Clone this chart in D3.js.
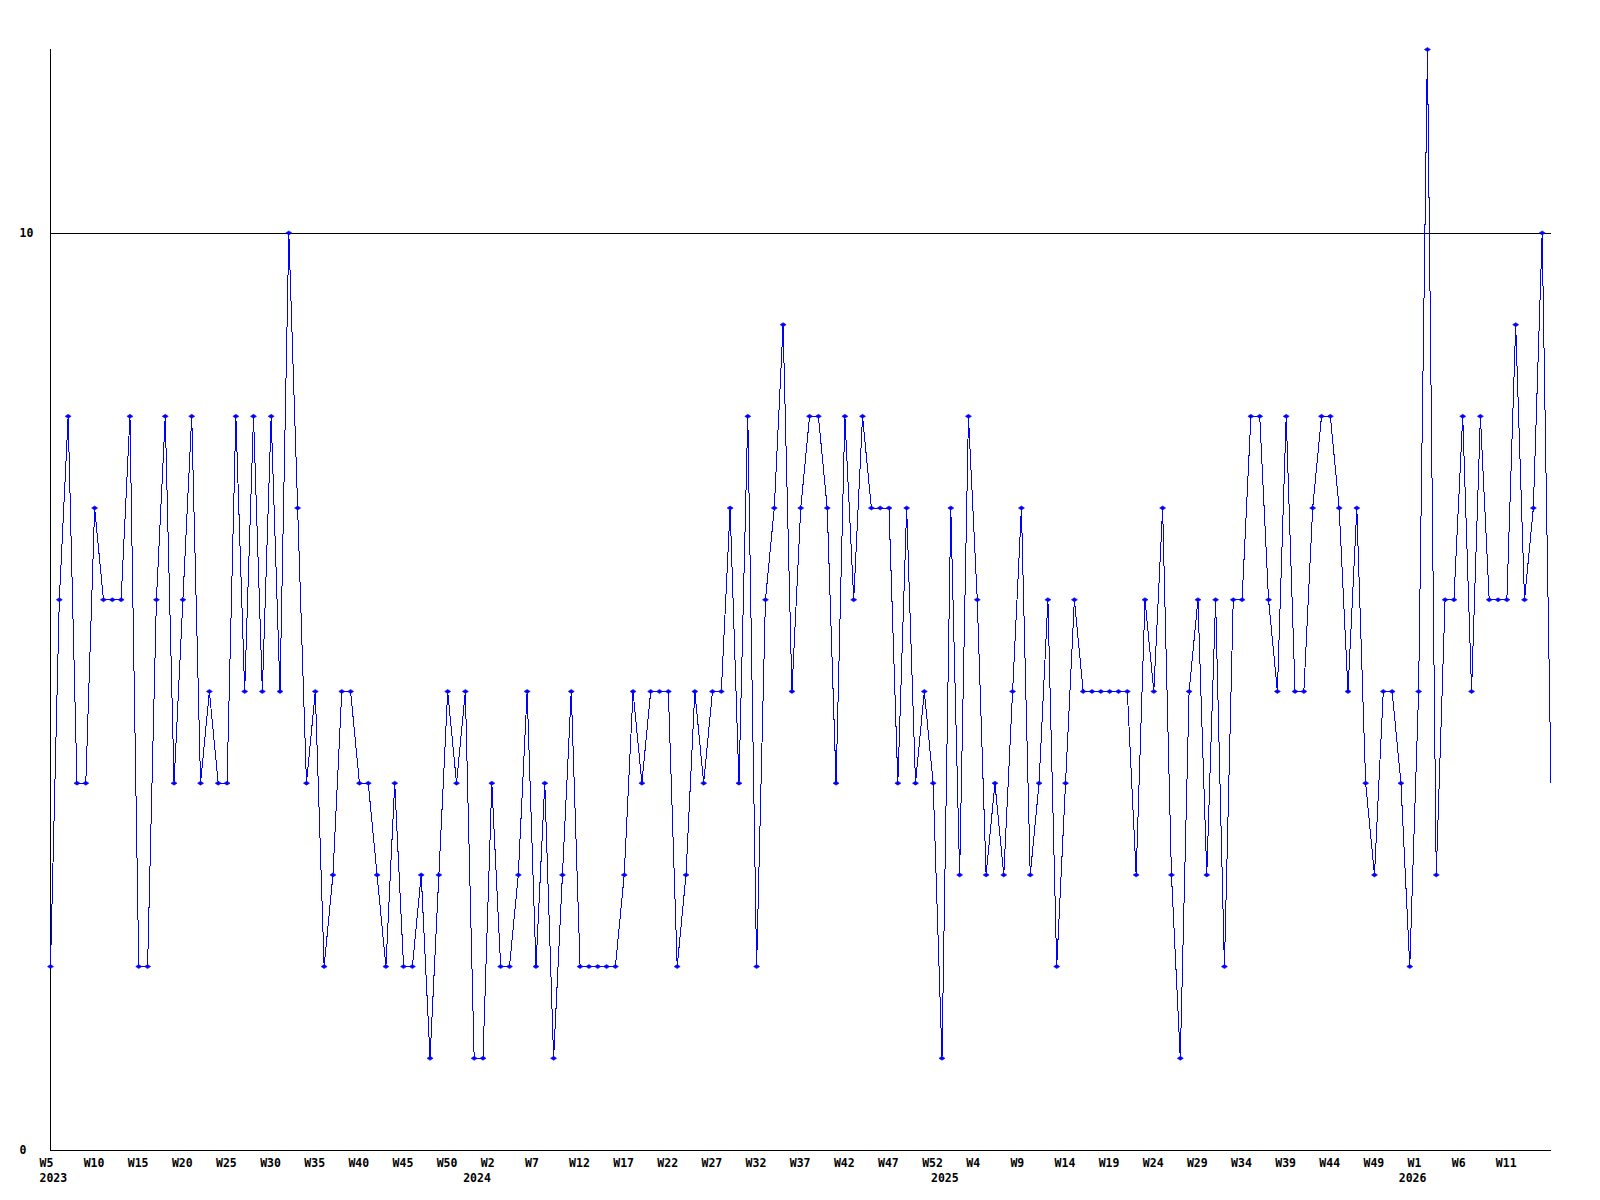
<!DOCTYPE html>
<html>
<head>
<meta charset="utf-8">
<script src="https://cdn.jsdelivr.net/npm/d3@7"></script>
<style>
  html, body { margin: 0; padding: 0; background: #ffffff; }
  svg { display: block; }
  text { font-family: "DejaVu Sans Mono", "Liberation Mono", monospace; font-weight: bold; font-size: 11.5px; fill: #000; }
</style>
</head>
<body>
<svg id="chart" width="1600" height="1200"></svg>
<script>
// weekly values, one per week starting at 2023 W5
const values = [
  2, 6, 8, 4, 4, 7, 6, 6, 6, 8,
  2, 2, 6, 8, 4, 6, 8, 4, 5, 4,
  4, 8, 5, 8, 5, 8, 5, 10, 7, 4,
  5, 2, 3, 5, 5, 4, 4, 3, 2, 4,
  2, 2, 3, 1, 3, 5, 4, 5, 1, 1,
  4, 2, 2, 3, 5, 2, 4, 1, 3, 5,
  2, 2, 2, 2, 2, 3, 5, 4, 5, 5,
  5, 2, 3, 5, 4, 5, 5, 7, 4, 8,
  2, 6, 7, 9, 5, 7, 8, 8, 7, 4,
  8, 6, 8, 7, 7, 7, 4, 7, 4, 5,
  4, 1, 7, 3, 8, 6, 3, 4, 3, 5,
  7, 3, 4, 6, 2, 4, 6, 5, 5, 5,
  5, 5, 5, 3, 6, 5, 7, 3, 1, 5,
  6, 3, 6, 2, 6, 6, 8, 8, 6, 5,
  8, 5, 5, 7, 8, 8, 7, 5, 7, 4,
  3, 5, 5, 4, 2, 5, 12, 3, 6, 6,
  8, 5, 8, 6, 6, 6, 9, 6, 7, 10,
  4
];

// x-axis week labels, one every 5 weeks
const weekLabels = [
  "W5", "W10", "W15", "W20", "W25", "W30", "W35", "W40", "W45", "W50",
  "W2", "W7", "W12", "W17", "W22", "W27", "W32", "W37", "W42", "W47", "W52",
  "W4", "W9", "W14", "W19", "W24", "W29", "W34", "W39", "W44", "W49",
  "W1", "W6", "W11"
];
const weekLabelStep = 5;

// year labels and the week index at which each year starts
const yearLabels = ["2023", "2024", "2025", "2026"];
const yearStartIndex = [0, 48, 101, 154];

// y-axis labels / reference line
const yTicks = [0, 10];
const yGridLines = [10];
const yMax = 12;

const svg = d3.select("#chart");
const plotLeft = 50, plotRight = 1551, plotTop = 49.5, plotBottom = 1150;

const x = d3.scaleLinear().domain([0, values.length - 1]).range([plotLeft + 0.5, plotRight]);
const y = d3.scaleLinear().domain([0, yMax]).range([plotBottom, plotTop]);

// axes lines
svg.append("line")
  .attr("x1", plotLeft + 0.5).attr("x2", plotLeft + 0.5)
  .attr("y1", plotTop - 0.5).attr("y2", plotBottom + 0.5)
  .attr("stroke", "#000").attr("stroke-width", 1).attr("shape-rendering", "crispEdges");
svg.append("line")
  .attr("x1", plotLeft).attr("x2", plotRight)
  .attr("y1", plotBottom + 0.5).attr("y2", plotBottom + 0.5)
  .attr("stroke", "#000").attr("stroke-width", 1).attr("shape-rendering", "crispEdges");

// reference gridline(s)
svg.selectAll("line.grid").data(yGridLines).enter().append("line")
  .attr("class", "grid")
  .attr("x1", plotLeft).attr("x2", plotRight)
  .attr("y1", d => Math.round(y(d)) + 0.5).attr("y2", d => Math.round(y(d)) + 0.5)
  .attr("stroke", "#000").attr("stroke-width", 1).attr("shape-rendering", "crispEdges");

// y labels
svg.selectAll("text.ylab").data(yTicks).enter().append("text")
  .attr("class", "ylab")
  .attr("x", 19.5)
  .attr("y", d => y(d))
  .attr("dy", "0.36em")
  .text(d => d);

// week labels
svg.selectAll("text.wlab").data(weekLabels).enter().append("text")
  .attr("class", "wlab")
  .attr("x", (d, i) => x(i * weekLabelStep) - 11)
  .attr("y", 1166.5)
  .text(d => d);

// year labels
svg.selectAll("text.yrlab").data(yearLabels).enter().append("text")
  .attr("class", "yrlab")
  .attr("x", (d, i) => x(yearStartIndex[i]) - 11)
  .attr("y", 1181.5)
  .text(d => d);

// line
const line = d3.line().x((d, i) => x(i)).y(d => y(d));
svg.append("path")
  .datum(values)
  .attr("d", line)
  .attr("fill", "none")
  .attr("stroke", "#0000ff")
  .attr("stroke-width", 1)
  .attr("shape-rendering", "crispEdges");

// markers (the last point sits on the plot edge and shows no marker)
const marker = "M-3,0L0,-2L3,0L0,2Z";
svg.selectAll("path.mk").data(values.slice(0, values.length - 1)).enter().append("path")
  .attr("class", "mk")
  .attr("transform", (d, i) => `translate(${x(i)},${y(d)})`)
  .attr("d", marker)
  .attr("fill", "#0000ff")
  .attr("stroke", "#0000ff")
  .attr("stroke-width", 0.6);
</script>
</body>
</html>
